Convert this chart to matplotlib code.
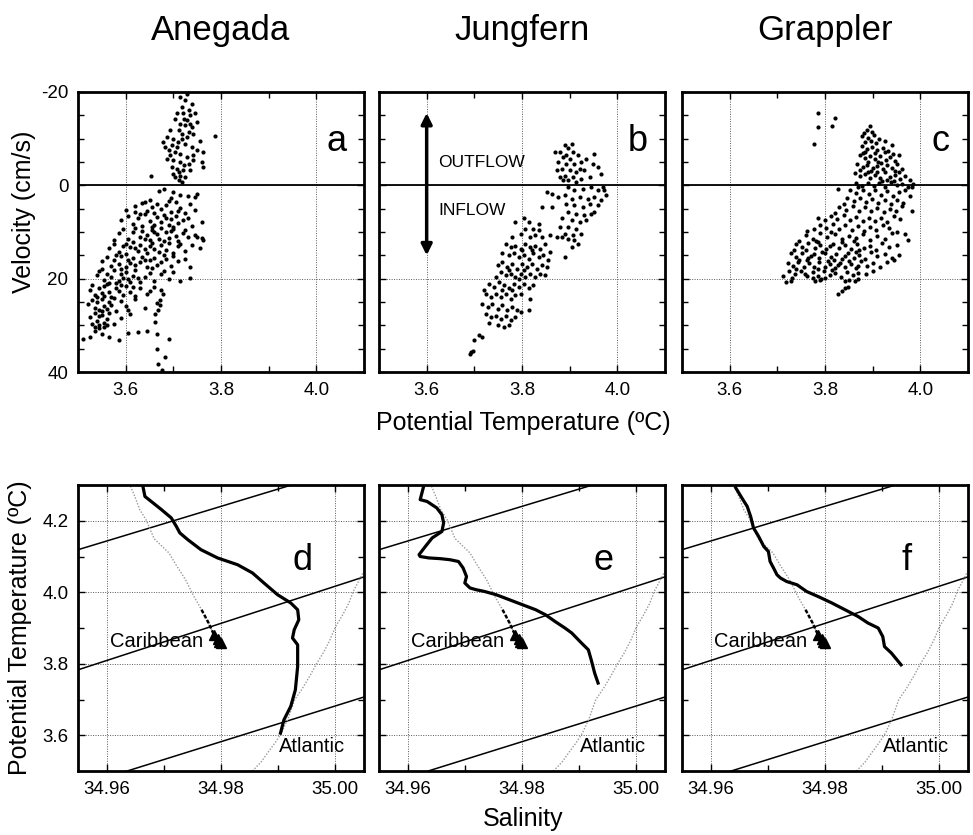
import numpy as np
import matplotlib
matplotlib.use('Agg')
import matplotlib.pyplot as plt
from matplotlib.ticker import FixedLocator, FormatStrFormatter, MultipleLocator

plt.rcParams['font.family'] = ['Liberation Sans', 'DejaVu Sans']
plt.rcParams['axes.unicode_minus'] = False

sites = ['Anegada', 'Jungfern', 'Grappler']
letters_top = ['a', 'b', 'c']
letters_bot = ['d', 'e', 'f']

# ---------------- top row: (potential temperature, velocity) ----------------
anegada_out = [
    (3.728, -19.6), (3.714, -18.9), (3.725, -18.2), (3.739, -17.5), (3.718, -16.8), (3.732, -16.1),
    (3.707, -15.4), (3.721, -15.4), (3.735, -15.0), (3.746, -15.4), (3.704, -14.3), (3.728, -13.9),
    (3.749, -13.6), (3.714, -13.2), (3.725, -12.9), (3.739, -12.5), (3.693, -11.8), (3.711, -11.8),
    (3.732, -11.4), (3.742, -11.1), (3.686, -10.4), (3.700, -10.0), (3.718, -10.0), (3.756, -9.6),
    (3.679, -9.3), (3.697, -8.6), (3.707, -8.2), (3.725, -8.9), (3.739, -8.2), (3.690, -7.5),
    (3.704, -7.1), (3.714, -6.8), (3.749, -7.5), (3.763, -7.1), (3.686, -5.7), (3.700, -5.4),
    (3.728, -6.1), (3.742, -5.4), (3.760, -5.0), (3.697, -3.9), (3.707, -3.6), (3.721, -3.2),
    (3.735, -3.2), (3.763, -3.9), (3.700, -2.5), (3.714, -2.1), (3.725, -1.8), (3.711, -1.1),
    (3.718, -0.7), (3.704, -1.8), (3.742, -6.4), (3.683, -8.2), (3.714, -5.0), (3.732, -4.6),
    (3.788, -10.5), (3.654, -2.1), (3.723, -14.3), (3.735, -13.2), (3.718, -11.1), (3.728, -10.4),
    (3.709, -9.3), (3.693, -6.4), (3.723, -4.3), (3.711, -2.9),
]
anegada_in = [
    (3.68, 0.8), (3.67, 1.2), (3.715, 2.1), (3.73, 2.2), (3.745, 2.5), (3.75, 1.8), (3.64, 3.5),
    (3.65, 3.1), (3.695, 2.8), (3.70, 1.5),
    (3.60, 5.2), (3.62, 4.4), (3.635, 3.8), (3.645, 5.5), (3.655, 4.6), (3.665, 3.9), (3.675, 5.1),
    (3.685, 4.2), (3.695, 5.8), (3.705, 3.6), (3.715, 4.8), (3.725, 5.9), (3.735, 4.1), (3.745, 5.3),
    (3.69, 3.3), (3.66, 5.9), (3.62, 5.8), (3.71, 5.4),
    (3.59, 7.4), (3.605, 6.5), (3.615, 8.3), (3.625, 7.0), (3.635, 8.8), (3.64, 6.2), (3.65, 7.6),
    (3.66, 8.4), (3.665, 6.7), (3.675, 7.9), (3.68, 6.3), (3.69, 8.6), (3.695, 7.2), (3.705, 6.6),
    (3.71, 8.1), (3.72, 7.4), (3.73, 6.9), (3.74, 8.7), (3.655, 8.9), (3.685, 7.0), (3.70, 8.9),
    (3.63, 6.1), (3.76, 7.8),
    (3.585, 10.3), (3.595, 9.4), (3.605, 11.6), (3.615, 10.1), (3.62, 9.2), (3.63, 11.0), (3.635, 9.8),
    (3.645, 10.7), (3.65, 11.8), (3.655, 9.5), (3.665, 10.4), (3.67, 11.4), (3.675, 9.1), (3.685, 10.0),
    (3.69, 11.2), (3.695, 9.7), (3.705, 10.8), (3.71, 11.9), (3.72, 10.2), (3.73, 11.1), (3.745, 10.6),
    (3.76, 11.3), (3.64, 11.5), (3.68, 11.9), (3.66, 9.9), (3.70, 9.3), (3.725, 9.6), (3.575, 11.8),
    (3.763, 11.8), (3.749, 11.1),
    (3.565, 13.4), (3.575, 12.6), (3.585, 14.2), (3.595, 12.9), (3.60, 14.8), (3.61, 13.3), (3.615, 12.2),
    (3.625, 14.0), (3.63, 12.8), (3.64, 13.7), (3.645, 14.6), (3.655, 12.4), (3.66, 13.6), (3.67, 14.3),
    (3.675, 12.7), (3.685, 13.9), (3.69, 12.3), (3.70, 14.5), (3.71, 13.1), (3.725, 14.0), (3.74, 12.8),
    (3.62, 13.5), (3.65, 13.1), (3.68, 14.9), (3.60, 12.5), (3.715, 12.5), (3.755, 13.5),
    (3.55, 16.3), (3.56, 15.4), (3.57, 17.2), (3.575, 15.9), (3.585, 16.8), (3.59, 15.2), (3.60, 17.6),
    (3.605, 16.0), (3.615, 15.5), (3.62, 17.0), (3.63, 16.4), (3.635, 15.3), (3.645, 17.4), (3.65, 16.1),
    (3.66, 15.6), (3.665, 17.1), (3.675, 16.5), (3.685, 15.8), (3.695, 17.3), (3.71, 16.2), (3.725, 15.7),
    (3.735, 17.5), (3.59, 17.9), (3.61, 16.6), (3.64, 15.9), (3.58, 15.0), (3.655, 17.8), (3.70, 15.1),
    (3.54, 19.2), (3.545, 18.4), (3.555, 20.3), (3.56, 18.9), (3.57, 19.7), (3.575, 18.2), (3.585, 20.6),
    (3.59, 19.0), (3.60, 18.5), (3.605, 20.1), (3.615, 19.4), (3.62, 18.1), (3.63, 20.8), (3.64, 19.6),
    (3.65, 18.7), (3.66, 20.4), (3.675, 19.1), (3.69, 20.0), (3.70, 18.6), (3.715, 20.5), (3.565, 20.9),
    (3.595, 19.8), (3.625, 19.9), (3.55, 18.0), (3.58, 21.0), (3.61, 20.7), (3.68, 18.3), (3.735, 19.9),
    (3.525, 22.5), (3.53, 21.4), (3.535, 23.6), (3.545, 22.1), (3.55, 23.0), (3.555, 21.6), (3.565, 22.8),
    (3.57, 23.9), (3.58, 21.9), (3.585, 22.6), (3.595, 23.4), (3.60, 21.5), (3.61, 22.9), (3.62, 23.8),
    (3.63, 22.0), (3.645, 23.2), (3.66, 21.8), (3.675, 22.4), (3.54, 24.0), (3.56, 21.2), (3.59, 21.3),
    (3.615, 21.7), (3.65, 22.6), (3.555, 23.7),
    (3.52, 25.4), (3.53, 24.6), (3.535, 26.3), (3.54, 25.0), (3.545, 26.8), (3.55, 24.4), (3.555, 25.8),
    (3.56, 26.5), (3.565, 24.9), (3.57, 25.6), (3.58, 26.9), (3.59, 24.7), (3.60, 25.9), (3.62, 24.3),
    (3.64, 26.2), (3.665, 25.3), (3.55, 27.0), (3.575, 24.2), (3.605, 26.7),
    (3.525, 28.2), (3.535, 27.4), (3.54, 29.0), (3.545, 28.1), (3.55, 27.7), (3.555, 29.4), (3.56, 28.6),
    (3.565, 27.3), (3.575, 29.8), (3.59, 28.4), (3.61, 27.6), (3.53, 29.7), (3.545, 30.0), (3.56, 29.9),
    (3.51, 32.9), (3.525, 32.4), (3.535, 31.2), (3.545, 30.6), (3.55, 31.9), (3.555, 30.3), (3.565, 32.6),
    (3.585, 33.1), (3.605, 31.7), (3.625, 31.5), (3.645, 31.2), (3.535, 30.4),
    (3.668, 26.8), (3.672, 24.6), (3.661, 29.3), (3.665, 31.8), (3.690, 32.9), (3.665, 35.0),
    (3.683, 36.8), (3.668, 38.2), (3.676, 39.6), (3.661, 27.5), (3.679, 23.2), (3.671, 25.7),
]
jungfern_pts = [
    (3.890, -8.6), (3.897, -7.9), (3.880, -7.1), (3.907, -7.1), (3.917, -6.4), (3.886, -6.1),
    (3.900, -5.7), (3.876, -5.0), (3.893, -4.6), (3.910, -4.6), (3.924, -5.0), (3.952, -6.8),
    (3.959, -3.9), (3.966, -2.5), (3.883, -3.6), (3.900, -3.2), (3.914, -2.9), (3.931, -3.2),
    (3.890, -2.1), (3.907, -1.8), (3.924, -1.4), (3.942, -1.8), (3.897, -1.1), (3.914, -0.7),
    (3.869, -7.1), (3.904, -8.9), (3.935, -5.7), (3.949, -4.6), (3.873, -3.2), (3.921, -3.6),
    (3.893, -6.4), (3.886, -1.1), (3.880, -1.8),
    (3.852, 1.4), (3.862, 1.8), (3.876, 2.5), (3.842, 4.6), (3.862, 4.6), (3.804, 7.1), (3.824, 9.3),
    (3.835, 8.2), (3.859, 10.7), (3.873, 11.1), (3.883, 11.1), (3.897, 11.4), (3.910, 11.8),
    (3.904, 13.2), (3.890, 15.4), (3.917, 12.5), (3.897, 0.4), (3.910, 1.1), (3.928, 0.7),
    (3.945, 0.4), (3.959, 1.1), (3.973, 1.1), (3.976, 2.1), (3.969, 0.4), (3.890, 2.1), (3.904, 2.9),
    (3.921, 2.5), (3.938, 2.9), (3.952, 2.5), (3.893, 3.9), (3.910, 4.3), (3.928, 4.6), (3.942, 3.9),
    (3.959, 4.3), (3.897, 5.7), (3.914, 6.1), (3.931, 6.4), (3.945, 6.1), (3.904, 7.5), (3.921, 7.9),
    (3.935, 7.5), (3.897, 8.9), (3.914, 9.3), (3.890, 10.4), (3.907, 10.7), (3.924, 10.4),
    (3.883, 7.1), (3.880, 8.9), (3.966, 3.2), (3.952, 5.7),
    (3.786, 7.9), (3.807, 9.3), (3.814, 7.9), (3.797, 10.4), (3.828, 10.7), (3.842, 11.1),
    (3.780, 11.1), (3.817, 11.1), (3.835, 9.6),
    (3.766, 12.5), (3.776, 13.2), (3.786, 12.9), (3.797, 13.6), (3.807, 12.5), (3.817, 13.2),
    (3.828, 12.9), (3.838, 13.6), (3.849, 12.5), (3.759, 14.6), (3.773, 15.0), (3.783, 14.6),
    (3.793, 15.4), (3.804, 15.0), (3.814, 15.7), (3.824, 14.6), (3.835, 15.4), (3.845, 15.0),
    (3.859, 14.3), (3.800, 13.9), (3.821, 13.9), (3.855, 16.1),
    (3.749, 17.1), (3.759, 16.4), (3.769, 17.5), (3.780, 16.8), (3.790, 17.9), (3.800, 16.8),
    (3.811, 17.5), (3.821, 16.8), (3.831, 17.9), (3.842, 17.1), (3.852, 17.5), (3.755, 18.6),
    (3.766, 19.3), (3.776, 18.9), (3.786, 19.6), (3.797, 18.9), (3.807, 19.6), (3.817, 18.9),
    (3.828, 19.6), (3.838, 18.9), (3.745, 19.6), (3.793, 20.0), (3.849, 19.3), (3.773, 18.2),
    (3.804, 18.2),
    (3.731, 21.1), (3.742, 21.8), (3.752, 20.7), (3.762, 21.4), (3.773, 22.1), (3.783, 21.1),
    (3.793, 21.8), (3.804, 21.1), (3.814, 22.1), (3.824, 21.4), (3.724, 23.2), (3.735, 23.9),
    (3.745, 23.2), (3.755, 23.9), (3.766, 23.2), (3.776, 24.3), (3.786, 23.6), (3.797, 23.2),
    (3.721, 22.5), (3.780, 22.5), (3.759, 22.5), (3.817, 24.3),
    (3.717, 25.4), (3.728, 26.1), (3.738, 25.4), (3.749, 26.4), (3.759, 25.7), (3.769, 26.8),
    (3.780, 26.1), (3.790, 26.8), (3.724, 27.5), (3.735, 28.2), (3.745, 27.9), (3.755, 28.6),
    (3.766, 27.9), (3.776, 28.9), (3.786, 28.2), (3.731, 29.6), (3.749, 30.0), (3.762, 30.4),
    (3.773, 30.0), (3.797, 27.1), (3.814, 26.8),
    (3.710, 32.1), (3.717, 32.6), (3.700, 33.2), (3.693, 35.7), (3.690, 36.1), (3.697, 35.4),
]
grappler_pts = [
    (3.785, -15.4), (3.786, -12.5), (3.776, -8.8), (3.820, -14.5), (3.814, -12.7),
    (3.895, -12.8), (3.888, -11.9), (3.882, -11.3), (3.898, -11.5),
    (3.878, -10.6), (3.890, -10.2), (3.902, -10.8), (3.913, -10.0), (3.925, -9.4), (3.884, -9.3),
    (3.897, -9.6), (3.908, -9.1),
    (3.877, -8.5), (3.888, -7.8), (3.899, -8.3), (3.910, -7.6), (3.921, -8.1), (3.932, -7.4),
    (3.940, -8.6), (3.883, -7.2), (3.905, -7.0), (3.926, -7.1),
    (3.874, -6.5), (3.884, -5.8), (3.895, -6.3), (3.905, -5.6), (3.916, -6.2), (3.927, -5.5),
    (3.937, -6.0), (3.947, -5.3), (3.955, -6.6), (3.890, -5.1), (3.912, -5.0), (3.880, -6.9),
    (3.942, -6.8),
    (3.868, -4.6), (3.879, -3.9), (3.889, -4.4), (3.900, -3.7), (3.910, -4.2), (3.921, -3.5),
    (3.931, -4.4), (3.941, -3.8), (3.952, -4.5), (3.962, -3.4), (3.896, -3.1), (3.918, -4.8),
    (3.946, -3.1), (3.873, -3.2),
    (3.863, -2.6), (3.874, -1.9), (3.884, -2.4), (3.895, -1.6), (3.905, -2.2), (3.916, -1.5),
    (3.926, -2.8), (3.937, -1.7), (3.947, -2.3), (3.958, -1.4), (3.968, -2.0), (3.978, -1.2),
    (3.890, -2.9), (3.930, -1.1), (3.910, -2.9), (3.955, -2.9),
    (3.866, -0.5), (3.878, 0.2), (3.890, -0.6), (3.902, 0.1), (3.914, -0.4), (3.926, 0.3),
    (3.938, -0.7), (3.950, 0.0), (3.962, -0.3), (3.974, 0.4), (3.985, -0.2), (3.920, -0.9),
    (3.945, -0.9), (3.870, 0.4), (3.983, 0.3),
    (3.853, 1.0), (3.866, 1.6), (3.880, 0.9), (3.892, 1.8), (3.904, 1.1), (3.917, 2.0), (3.930, 1.3),
    (3.943, 2.2), (3.955, 1.5), (3.968, 1.0), (3.978, 2.3), (3.828, 0.7),
    (3.846, 2.8), (3.860, 3.4), (3.873, 2.7), (3.886, 3.6), (3.899, 2.9), (3.912, 3.8), (3.925, 3.1),
    (3.938, 3.9), (3.951, 3.2), (3.964, 3.7), (3.840, 3.9),
    (3.830, 4.6), (3.845, 5.2), (3.858, 4.4), (3.871, 5.5), (3.884, 4.7), (3.897, 5.6), (3.910, 4.9),
    (3.923, 5.8), (3.936, 5.0), (3.949, 5.6), (3.962, 4.5), (3.983, 5.4), (3.820, 5.9),
    (3.812, 6.6), (3.826, 7.2), (3.840, 6.4), (3.853, 7.4), (3.866, 6.7), (3.879, 7.6), (3.892, 6.9),
    (3.905, 7.7), (3.918, 7.0), (3.931, 7.8), (3.944, 6.5), (3.957, 7.3), (3.800, 7.5), (3.786, 6.9),
    (3.790, 8.5), (3.803, 9.1), (3.817, 8.3), (3.830, 9.4), (3.843, 8.6), (3.856, 9.5), (3.869, 8.8),
    (3.882, 9.7), (3.895, 8.9), (3.908, 9.6), (3.921, 8.4), (3.934, 9.2), (3.950, 9.9), (3.776, 9.3),
    (3.763, 9.8),
    (3.760, 10.6), (3.775, 11.4), (3.790, 10.3), (3.805, 11.1), (3.820, 10.5), (3.835, 11.6),
    (3.850, 10.8), (3.865, 11.3), (3.880, 10.4), (3.895, 11.7), (3.910, 10.9), (3.925, 11.5),
    (3.940, 10.2), (3.968, 10.4), (3.975, 11.8), (3.745, 11.9), (3.782, 11.9), (3.812, 10.1),
    (3.860, 12.0),
    (3.740, 12.6), (3.752, 13.3), (3.765, 12.4), (3.778, 13.5), (3.790, 12.7), (3.803, 13.6),
    (3.816, 12.5), (3.829, 13.4), (3.842, 12.8), (3.855, 13.7), (3.868, 12.6), (3.881, 13.5),
    (3.894, 12.9), (3.907, 13.8), (3.920, 12.3), (3.935, 13.2), (3.950, 12.7), (3.735, 13.9),
    (3.760, 13.9), (3.785, 12.1), (3.810, 13.0), (3.836, 12.1), (3.872, 13.9),
    (3.728, 14.6), (3.740, 15.3), (3.752, 14.4), (3.764, 15.5), (3.776, 14.7), (3.788, 15.6),
    (3.800, 14.5), (3.812, 15.4), (3.824, 14.8), (3.836, 15.7), (3.848, 14.6), (3.860, 15.5),
    (3.872, 14.9), (3.884, 15.8), (3.896, 14.3), (3.910, 15.2), (3.925, 14.7), (3.940, 15.6),
    (3.955, 14.9), (3.746, 15.9), (3.770, 15.1), (3.794, 14.2), (3.818, 15.9), (3.842, 15.2),
    (3.866, 14.2),
    (3.722, 16.6), (3.733, 17.3), (3.744, 16.4), (3.755, 17.5), (3.766, 16.7), (3.777, 17.6),
    (3.788, 16.5), (3.799, 17.4), (3.810, 16.8), (3.821, 17.7), (3.832, 16.6), (3.843, 17.5),
    (3.854, 16.9), (3.865, 17.8), (3.876, 16.3), (3.888, 17.2), (3.900, 16.7), (3.915, 17.4),
    (3.930, 16.5), (3.740, 17.9), (3.762, 16.1), (3.785, 17.9), (3.806, 16.2), (3.828, 17.1),
    (3.850, 16.2), (3.870, 17.3), (3.945, 16.0),
    (3.725, 18.4), (3.738, 19.1), (3.750, 18.3), (3.762, 19.4), (3.774, 18.6), (3.786, 19.5),
    (3.798, 18.4), (3.810, 19.3), (3.822, 18.7), (3.834, 19.6), (3.846, 18.5), (3.858, 19.2),
    (3.870, 18.8), (3.885, 19.0), (3.900, 18.3), (3.775, 19.9), (3.792, 20.0), (3.800, 19.8),
    (3.758, 18.9), (3.815, 18.1), (3.730, 19.8), (3.718, 20.7), (3.712, 19.5),
    (3.780, 20.4), (3.790, 20.3), (3.842, 20.5), (3.862, 20.4), (3.848, 21.8), (3.841, 22.1),
    (3.827, 23.2), (3.835, 22.6), (3.728, 20.4), (3.850, 20.2), (3.870, 20.1),
]
top_clouds = [anegada_out + anegada_in, jungfern_pts, grappler_pts]

# ---------------- bottom row: (salinity, potential temperature) ----------------
caribbean_S = [34.9635, 34.9643, 34.9650, 34.9658, 34.9669, 34.9683, 34.9696, 34.9709, 34.9722,
               34.9738, 34.9752, 34.9766, 34.9778, 34.9788, 34.9794, 34.9797, 34.9800]
caribbean_T = [4.320, 4.292, 4.265, 4.231, 4.203, 4.150, 4.130, 4.110, 4.075,
               4.035, 3.990, 3.951, 3.915, 3.880, 3.870, 3.862, 3.858]
atlantic_S = [34.9855, 34.9870, 34.9883, 34.9895, 34.9906, 34.9918, 34.9929, 34.9942, 34.9955,
              34.9967, 34.9979, 34.9990, 35.0000, 35.0012, 35.0023, 35.0032, 35.0042, 35.0050]
atlantic_T = [3.500, 3.525, 3.554, 3.580, 3.607, 3.650, 3.700, 3.730, 3.765,
              3.800, 3.831, 3.865, 3.903, 3.935, 3.968, 4.005, 4.035, 4.060]

anegada_S = [34.9663, 34.9664, 34.9667, 34.9678, 34.9696, 34.9713, 34.9722, 34.9728, 34.9742,
             34.9765, 34.9794, 34.9829, 34.9855, 34.9875, 34.9899, 34.9922, 34.9934, 34.9936,
             34.9928, 34.9925, 34.9934, 34.9934, 34.9930, 34.9922, 34.9910, 34.9904]
anegada_T = [4.300, 4.292, 4.268, 4.254, 4.231, 4.208, 4.184, 4.166, 4.147,
             4.119, 4.096, 4.077, 4.054, 4.026, 3.993, 3.970, 3.951, 3.923,
             3.895, 3.872, 3.853, 3.792, 3.727, 3.681, 3.643, 3.606]
jungfern_S = [34.9628, 34.9622, 34.9634, 34.9651, 34.9660, 34.9663, 34.9660, 34.9643, 34.9631,
              34.9620, 34.9622, 34.9637, 34.9657, 34.9674, 34.9689, 34.9697, 34.9703, 34.9700,
              34.9709, 34.9720, 34.9735, 34.9755, 34.9778, 34.9801, 34.9824, 34.9841, 34.9858,
              34.9875, 34.9887, 34.9904, 34.9916, 34.9921, 34.9927, 34.9933]
jungfern_T = [4.296, 4.259, 4.254, 4.236, 4.217, 4.194, 4.170, 4.152, 4.128,
              4.105, 4.100, 4.096, 4.094, 4.091, 4.086, 4.068, 4.044, 4.026,
              4.012, 4.007, 4.002, 3.993, 3.979, 3.965, 3.951, 3.937, 3.918,
              3.900, 3.886, 3.858, 3.839, 3.811, 3.774, 3.746]
grappler_S = [34.9644, 34.9655, 34.9664, 34.9670, 34.9675, 34.9684, 34.9693, 34.9701, 34.9704,
              34.9710, 34.9716, 34.9722, 34.9733, 34.9751, 34.9768, 34.9788, 34.9812, 34.9835,
              34.9858, 34.9875, 34.9893, 34.9901, 34.9904, 34.9916, 34.9933]
grappler_T = [4.292, 4.263, 4.240, 4.212, 4.180, 4.156, 4.128, 4.114, 4.086,
              4.068, 4.049, 4.040, 4.030, 4.021, 4.002, 3.988, 3.970, 3.951,
              3.932, 3.914, 3.900, 3.876, 3.848, 3.830, 3.797]
ts_profiles = [(anegada_S, anegada_T), (jungfern_S, jungfern_T), (grappler_S, grappler_T)]

# isopycnals: temperature at S = 34.955 and slope dT/dS
isopycnal_T0 = [4.119, 3.783, 3.457]
isopycnal_slope = [4.85, 5.2, 5.0]

# ---------------- figure ----------------
W, H = 973, 835
fig = plt.figure(figsize=(W / 100, H / 100), dpi=100)


def ax_at(l, t, w, h):
    return fig.add_axes([l / W, 1 - (t + h) / H, w / W, h / H])


lefts = [78, 379, 682]
aw = 286
top_axes = [ax_at(l, 92, aw, 280) for l in lefts]
bot_axes = [ax_at(l, 485, aw, 286) for l in lefts]

grid_kw = dict(color='0.35', linestyle=(0, (1, 1.5)), linewidth=0.7)


def style(ax):
    for s in ax.spines.values():
        s.set_linewidth(2.0)
    ax.tick_params(which='both', direction='in', top=True, right=True, width=1.0,
                   labelsize=13.5, pad=7)
    ax.tick_params(which='major', length=5)
    ax.tick_params(which='minor', length=4)


for i, ax in enumerate(top_axes):
    style(ax)
    ax.set_xlim(3.5, 4.1)
    ax.set_ylim(40, -20)
    ax.xaxis.set_major_locator(FixedLocator([3.6, 3.8, 4.0]))
    ax.xaxis.set_minor_locator(FixedLocator([3.7, 3.9]))
    ax.xaxis.set_major_formatter(FormatStrFormatter('%.1f'))
    ax.yaxis.set_major_locator(FixedLocator([-20, 0, 20, 40]))
    ax.yaxis.set_minor_locator(MultipleLocator(5))
    ax.grid(True, which='major', **grid_kw)
    ax.axhline(0, color='k', lw=1.3, zorder=2)
    T, V = zip(*top_clouds[i])
    ax.scatter(T, V, s=9, c='k', linewidths=0, zorder=3)
    ax.text(0.905, 0.79, letters_top[i], transform=ax.transAxes, fontsize=26,
            ha='center', va='baseline')
    if i > 0:
        ax.tick_params(labelleft=False)

# Jungfern annotations
axb = top_axes[1]
axb.annotate('', xy=(3.6, -15.5), xytext=(3.6, 15.0),
             arrowprops=dict(arrowstyle='<|-|>', lw=2.5, color='k', mutation_scale=16,
                             shrinkA=0, shrinkB=0), zorder=4)
axb.text(3.624, -4.0, 'OUTFLOW', fontsize=12.5, ha='left', va='baseline')
axb.text(3.624, 6.4, 'INFLOW', fontsize=12.5, ha='left', va='baseline')

for i, ax in enumerate(bot_axes):
    style(ax)
    ax.set_xlim(34.955, 35.005)
    ax.set_ylim(3.5, 4.3)
    ax.xaxis.set_major_locator(FixedLocator([34.96, 34.98, 35.00]))
    ax.xaxis.set_minor_locator(FixedLocator([34.97, 34.99]))
    ax.xaxis.set_major_formatter(FormatStrFormatter('%.2f'))
    ax.yaxis.set_major_locator(FixedLocator([3.6, 3.8, 4.0, 4.2]))
    ax.yaxis.set_minor_locator(FixedLocator([3.7, 3.9, 4.1]))
    ax.yaxis.set_major_formatter(FormatStrFormatter('%.1f'))
    ax.grid(True, which='major', **grid_kw)
    s_edge = np.array([34.955, 35.005])
    for t0, k in zip(isopycnal_T0, isopycnal_slope):
        ax.plot(s_edge, t0 + k * (s_edge - 34.955), color='k', lw=1.1, zorder=2)
    cs = np.array(caribbean_S)
    ct = np.array(caribbean_T)
    ax.plot(cs, ct, color='0.6', lw=1.0, ls=(0, (1, 1.2)), zorder=2)
    deep = ct < 3.96
    ax.plot(cs[deep], ct[deep], color='k', lw=1.8, ls=(0, (1.5, 0.8)), zorder=3)
    ax.plot(cs[ct < 3.885], ct[ct < 3.885], 'k^', ms=7, zorder=3)
    ax.plot(atlantic_S, atlantic_T, color='0.6', lw=1.0, ls=(0, (1, 1.2)), zorder=2)
    S, T = ts_profiles[i]
    ax.plot(S, T, color='k', lw=2.3, zorder=4)
    ax.text(34.9769, 3.848, 'Caribbean', fontsize=14.5, ha='right', va='baseline', zorder=5)
    ax.text(34.9901, 3.554, 'Atlantic', fontsize=14.5, ha='left', va='baseline', zorder=5)
    ax.text(0.785, 0.703, letters_bot[i], transform=ax.transAxes, fontsize=26,
            ha='center', va='baseline')
    if i > 0:
        ax.tick_params(labelleft=False)

# titles and axis labels
centers = [l + aw / 2 for l in lefts]
for c, name in zip(centers, sites):
    fig.text(c / W, 1 - 40 / H, name, fontsize=25, ha='center', va='baseline')
fig.text(24 / W, 1 - 212 / H, 'Velocity (cm/s)', rotation=90, fontsize=18,
         ha='center', va='center')
fig.text(523 / W, 1 - 430 / H, 'Potential Temperature (ºC)', fontsize=18,
         ha='center', va='baseline')
fig.text(20 / W, 1 - 628 / H, 'Potential Temperature (ºC)', rotation=90, fontsize=18,
         ha='center', va='center')
fig.text(523 / W, 1 - 826 / H, 'Salinity', fontsize=18, ha='center', va='baseline')

fig.savefig('out.png', dpi=100)
